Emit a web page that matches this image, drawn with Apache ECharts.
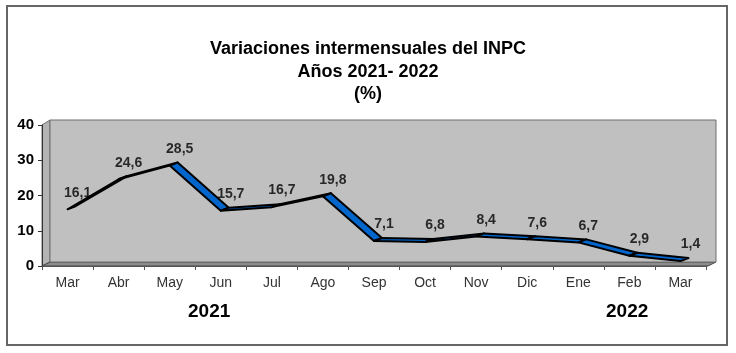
<!DOCTYPE html>
<html>
<head>
<meta charset="utf-8">
<script src="https://cdn.jsdelivr.net/npm/echarts@6/dist/echarts.min.js"></script>
<style>
  html, body { margin: 0; padding: 0; background: #fff; }
  #main { width: 736px; height: 353px; }
</style>
</head>
<body>
<div id="main"></div>
<script>
    // datos del grafico
    var meses = ['Mar', 'Abr', 'May', 'Jun', 'Jul', 'Ago', 'Sep', 'Oct', 'Nov', 'Dic', 'Ene', 'Feb', 'Mar'];
    var valores = [16.1, 24.6, 28.5, 15.7, 16.7, 19.8, 7.1, 6.8, 8.4, 7.6, 6.7, 2.9, 1.4];
    var anios = ['2021', '2022'];
    var titulo = 'Variaciones intermensuales del INPC\nAños 2021- 2022\n(%)';

    var fuente = '"Liberation Sans", Arial, sans-serif';
    // profundidad de la cinta 3D
    var dx = 8, dy = -3;

    var myChart = echarts.init(document.getElementById('main'));

    var option = {
        backgroundColor: '#fff',
        animation: false,
        title: {
            text: titulo,
            left: 'center',
            top: 33,
            textStyle: {
                fontFamily: fuente,
                fontSize: 18,
                fontWeight: 'bold',
                color: '#000',
                lineHeight: 22.5
            }
        },
        grid: [
            // ejes frontales
            {left: 42, right: 30, top: 125, bottom: 87},
            // pared del fondo
            {
                left: 50, right: 20, top: 120, bottom: 91,
                show: true,
                backgroundColor: '#c0c0c0',
                borderColor: '#6f6f6f',
                borderWidth: 1
            }
        ],
        xAxis: [
            {
                type: 'category',
                gridIndex: 0,
                data: meses,
                boundaryGap: true,
                axisLine: {lineStyle: {color: '#555', width: 1}},
                axisTick: {show: true, length: 4, lineStyle: {color: '#555'}},
                axisLabel: {
                    fontFamily: fuente,
                    fontSize: 14,
                    color: '#333',
                    margin: 10
                }
            },
            {type: 'category', gridIndex: 1, data: meses, show: false}
        ],
        yAxis: [
            {
                type: 'value',
                gridIndex: 0,
                min: 0,
                max: 40,
                interval: 10,
                axisLine: {show: true, lineStyle: {color: '#333', width: 1}},
                axisTick: {show: true, length: 4, lineStyle: {color: '#333'}},
                splitLine: {show: false},
                axisLabel: {
                    fontFamily: fuente,
                    fontSize: 15,
                    fontWeight: 'bold',
                    color: '#000',
                    margin: 8
                }
            },
            {type: 'value', gridIndex: 1, min: 0, max: 40, show: false, splitLine: {show: false}}
        ],
        graphic: [
            // pared izquierda
            {
                type: 'polygon', z: -1,
                shape: {points: [[42, 125], [50, 120], [50, 262], [42, 266]]},
                style: {fill: '#b4b4b4', stroke: '#6f6f6f', lineWidth: 1}
            },
            // piso
            {
                type: 'polygon', z: -1,
                shape: {points: [[42, 266], [50, 262], [716, 262], [708, 266]]},
                style: {fill: '#8c8c8c', stroke: '#444', lineWidth: 1}
            },
            {
                type: 'text', left: 188, top: 302,
                style: {text: anios[0], font: 'bold 19px ' + fuente, fill: '#000'}
            },
            {
                type: 'text', left: 606, top: 302,
                style: {text: anios[1], font: 'bold 19px ' + fuente, fill: '#000'}
            },
            // marco exterior
            {
                type: 'rect', z: 10,
                shape: {x: 7, y: 6, width: 720, height: 339},
                style: {fill: 'none', stroke: '#666', lineWidth: 2}
            }
        ],
        series: [
            {
                name: 'INPC',
                type: 'custom',
                xAxisIndex: 0,
                yAxisIndex: 0,
                data: valores.map(function (v, i) { return [i, v]; }),
                renderItem: function (params, api) {
                    var i = params.dataIndex;
                    if (i >= valores.length - 1) {
                        return;
                    }
                    var p0 = api.coord([i, valores[i]]);
                    var p1 = api.coord([i + 1, valores[i + 1]]);
                    return {
                        type: 'polygon',
                        shape: {
                            points: [p0, p1, [p1[0] + dx, p1[1] + dy], [p0[0] + dx, p0[1] + dy]]
                        },
                        style: {fill: '#0066cc', stroke: '#000', lineWidth: 2, lineJoin: 'round'}
                    };
                },
                z: 3
            },
            {
                name: 'etiquetas',
                type: 'scatter',
                xAxisIndex: 0,
                yAxisIndex: 0,
                data: valores,
                symbolSize: 1,
                itemStyle: {color: 'rgba(0,0,0,0)'},
                label: {
                    show: true,
                    position: 'top',
                    offset: [10, -4],
                    fontFamily: fuente,
                    fontSize: 14,
                    fontWeight: 'bold',
                    color: '#000',
                    formatter: function (p) {
                        return String(p.value).replace('.', ',');
                    }
                },
                z: 4
            }
        ]
    };

    myChart.setOption(option);
</script>
</body>
</html>
